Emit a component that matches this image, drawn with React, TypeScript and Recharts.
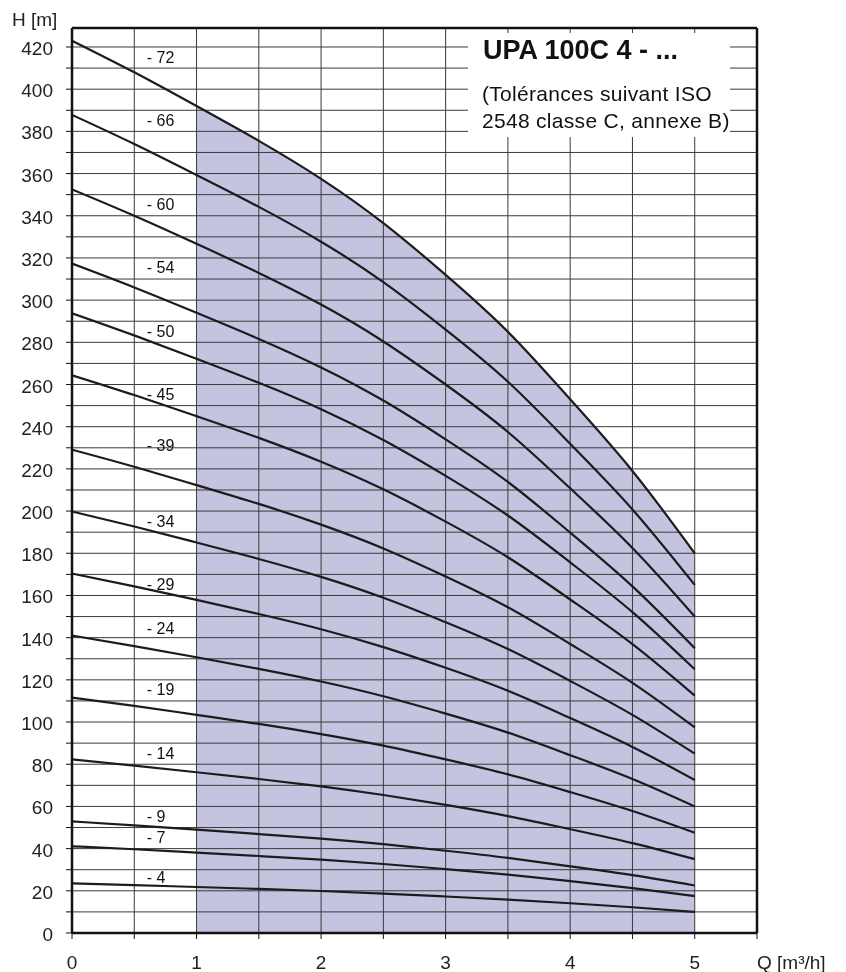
import React from 'react';
import {
  ComposedChart, Line, Area, Scatter, XAxis, YAxis, CartesianGrid, ReferenceLine,
} from 'recharts';

// Flow rate Q [m³/h]
const flow = [0, 0.5, 1, 1.5, 2, 2.5, 3, 3.5, 4, 4.5, 5];

// Head H [m] for each stage count
const h72 = [423, 408, 392, 375.5, 357.5, 336.5, 312, 285, 253, 219, 180];
const h66 = [387.8, 374.0, 359.3, 344.2, 327.7, 308.5, 286.0, 261.3, 231.9, 200.8, 165.0];
const h60 = [352.5, 340.0, 326.7, 312.9, 297.9, 280.4, 260.0, 237.5, 210.8, 182.5, 150.0];
const h54 = [317.3, 306.0, 294.0, 281.6, 268.1, 252.4, 234.0, 213.8, 189.8, 164.3, 135.0];
const h50 = [293.8, 283.3, 272.2, 260.8, 248.3, 233.7, 216.7, 197.9, 175.7, 152.1, 125.0];
const h45 = [264.4, 255.0, 245.0, 234.7, 223.4, 210.3, 195.0, 178.1, 158.1, 136.9, 112.5];
const h39 = [229.1, 221.0, 212.3, 203.4, 193.6, 182.3, 169.0, 154.4, 137.0, 118.6, 97.5];
const h34 = [199.8, 192.7, 185.1, 177.3, 168.8, 158.9, 147.3, 134.6, 119.5, 103.4, 85.0];
const h29 = [170.4, 164.3, 157.9, 151.2, 144.0, 135.5, 125.7, 114.8, 101.9, 88.2, 72.5];
const h24 = [141.0, 136.0, 130.7, 125.2, 119.2, 112.2, 104.0, 95.0, 84.3, 73.0, 60.0];
const h19 = [111.6, 107.7, 103.4, 99.1, 94.3, 88.8, 82.3, 75.2, 66.8, 57.8, 47.5];
const h14 = [82.3, 79.3, 76.2, 73.0, 69.5, 65.4, 60.7, 55.4, 49.2, 42.6, 35.0];
const h9 = [52.9, 51.0, 49.0, 46.9, 44.7, 42.1, 39.0, 35.6, 31.6, 27.4, 22.5];
const h7 = [41.1, 39.7, 38.1, 36.5, 34.8, 32.7, 30.3, 27.7, 24.6, 21.3, 17.5];
const h4 = [23.5, 22.7, 21.8, 20.9, 19.9, 18.7, 17.3, 15.8, 14.1, 12.2, 10.0];

// Operating range (shaded) from Q = 1 to 5 under the top curve
const rangeTop = [null, null, 392, 375.5, 357.5, 336.5, 312, 285, 253, 219, 180];

const stageNames = ['72', '66', '60', '54', '50', '45', '39', '34', '29', '24', '19', '14', '9', '7', '4'];
const stageSeries = [h72, h66, h60, h54, h50, h45, h39, h34, h29, h24, h19, h14, h9, h7, h4];

// Curve label anchors (Q, H)
const labelQ = 0.6;
const labelH = [415, 385, 345, 315, 285, 255, 231, 195, 165, 144, 115, 85, 55, 45, 26];

const xTicks = [0, 0.5, 1, 1.5, 2, 2.5, 3, 3.5, 4, 4.5, 5, 5.5];
const xTickLabels = [0, 1, 2, 3, 4, 5];
const yTicks = Array.from({ length: 43 }, (_, i) => i * 10);
const yMax = 429;
const xMax = 5.5;

const data = flow.map((q, i) => {
  const row: any = { Q: q, range: rangeTop[i] };
  stageNames.forEach((s, k) => { row['s' + s] = stageSeries[k][i]; });
  return row;
});
const labelData = stageNames.map((s, k) => ({ Q: labelQ, H: labelH[k], name: '- ' + s }));

const FONT = '"Liberation Sans", Arial, Helvetica, sans-serif';

const XTick = (props: any) => {
  const { x, y, payload } = props;
  if (!xTickLabels.includes(payload.value)) return null;
  return (
    <text x={x} y={y + 28} textAnchor="middle" fontSize={19} fill="#222" fontFamily={FONT}>
      {payload.value}
    </text>
  );
};

const YTick = (props: any) => {
  const { x, y, payload } = props;
  if (payload.value % 20 !== 0) return null;
  return (
    <text x={x} y={y + 8} textAnchor="end" fontSize={19} fill="#222" fontFamily={FONT}>
      {payload.value}
    </text>
  );
};

const LabelShape = (props: any) => {
  const { cx, cy, payload } = props;
  return (
    <text x={cx} y={cy + 5} fontSize={16} fill="#111" fontFamily={FONT}>
      {payload.name}
    </text>
  );
};

export default function App() {
  return (
    <div style={{ position: 'fixed', left: 0, top: 0, width: 846, height: 972, overflow: 'hidden', background: '#fff' }}>
      <style>{`.recharts-area-area { mix-blend-mode: multiply; }`}</style>
      <ComposedChart
        width={846}
        height={972}
        data={data}
        margin={{ top: 28, right: 89, bottom: 9, left: 12 }}
      >
        <CartesianGrid stroke="#3a3a3a" strokeWidth={1} fill="none" {...({ zIndex: 150 } as any)} />
        <Area
          dataKey="range"
          type="natural"
          stroke="none"
          fill="#c4c4e0"
          fillOpacity={1}
          isAnimationActive={false}
          connectNulls={false}
          baseValue={0}
        />
        <XAxis
          dataKey="Q"
          type="number"
          domain={[0, xMax]}
          ticks={xTicks}
          interval={0}
          height={30}
          tickSize={6}
          tickMargin={2}
          tick={<XTick />}
          axisLine={{ stroke: '#111', strokeWidth: 2.5 }}
          tickLine={{ stroke: '#111', strokeWidth: 1 }}
          allowDataOverflow
        />
        <YAxis
          type="number"
          domain={[0, yMax]}
          ticks={yTicks}
          interval={0}
          width={60}
          tickSize={6}
          tickMargin={13}
          tick={<YTick />}
          axisLine={{ stroke: '#111', strokeWidth: 2.5 }}
          tickLine={{ stroke: '#111', strokeWidth: 1 }}
          allowDataOverflow
        />
        <ReferenceLine y={yMax} stroke="#111" strokeWidth={2.5} />
        <ReferenceLine x={xMax} stroke="#111" strokeWidth={2.5} />
        {stageNames.map((s) => (
          <Line
            key={s}
            dataKey={'s' + s}
            type="natural"
            stroke="#1c1c1c"
            strokeWidth={2.2}
            dot={false}
            isAnimationActive={false}
          />
        ))}
        <Scatter
          data={labelData}
          dataKey="H"
          shape={<LabelShape />}
          isAnimationActive={false}
        />
      </ComposedChart>
      <svg
        width={846}
        height={972}
        style={{ position: 'absolute', left: 0, top: 0, pointerEvents: 'none' }}
        fontFamily={FONT}
      >
        <text x={12} y={26} fontSize={19} fill="#222">H [m]</text>
        <text x={757} y={969} fontSize={19} fill="#222">Q [m³/h]</text>
        <rect x={468} y={33} width={262} height={104} fill="#fff" />
        <text x={483} y={59} fontSize={27} fontWeight="bold" fill="#111">UPA 100C 4 - ...</text>
        <text x={482} y={101} fontSize={21} letterSpacing={0.3} fill="#111">(Tolérances suivant ISO</text>
        <text x={482} y={128} fontSize={21} letterSpacing={0.3} fill="#111">2548 classe C, annexe B)</text>
      </svg>
    </div>
  );
}
